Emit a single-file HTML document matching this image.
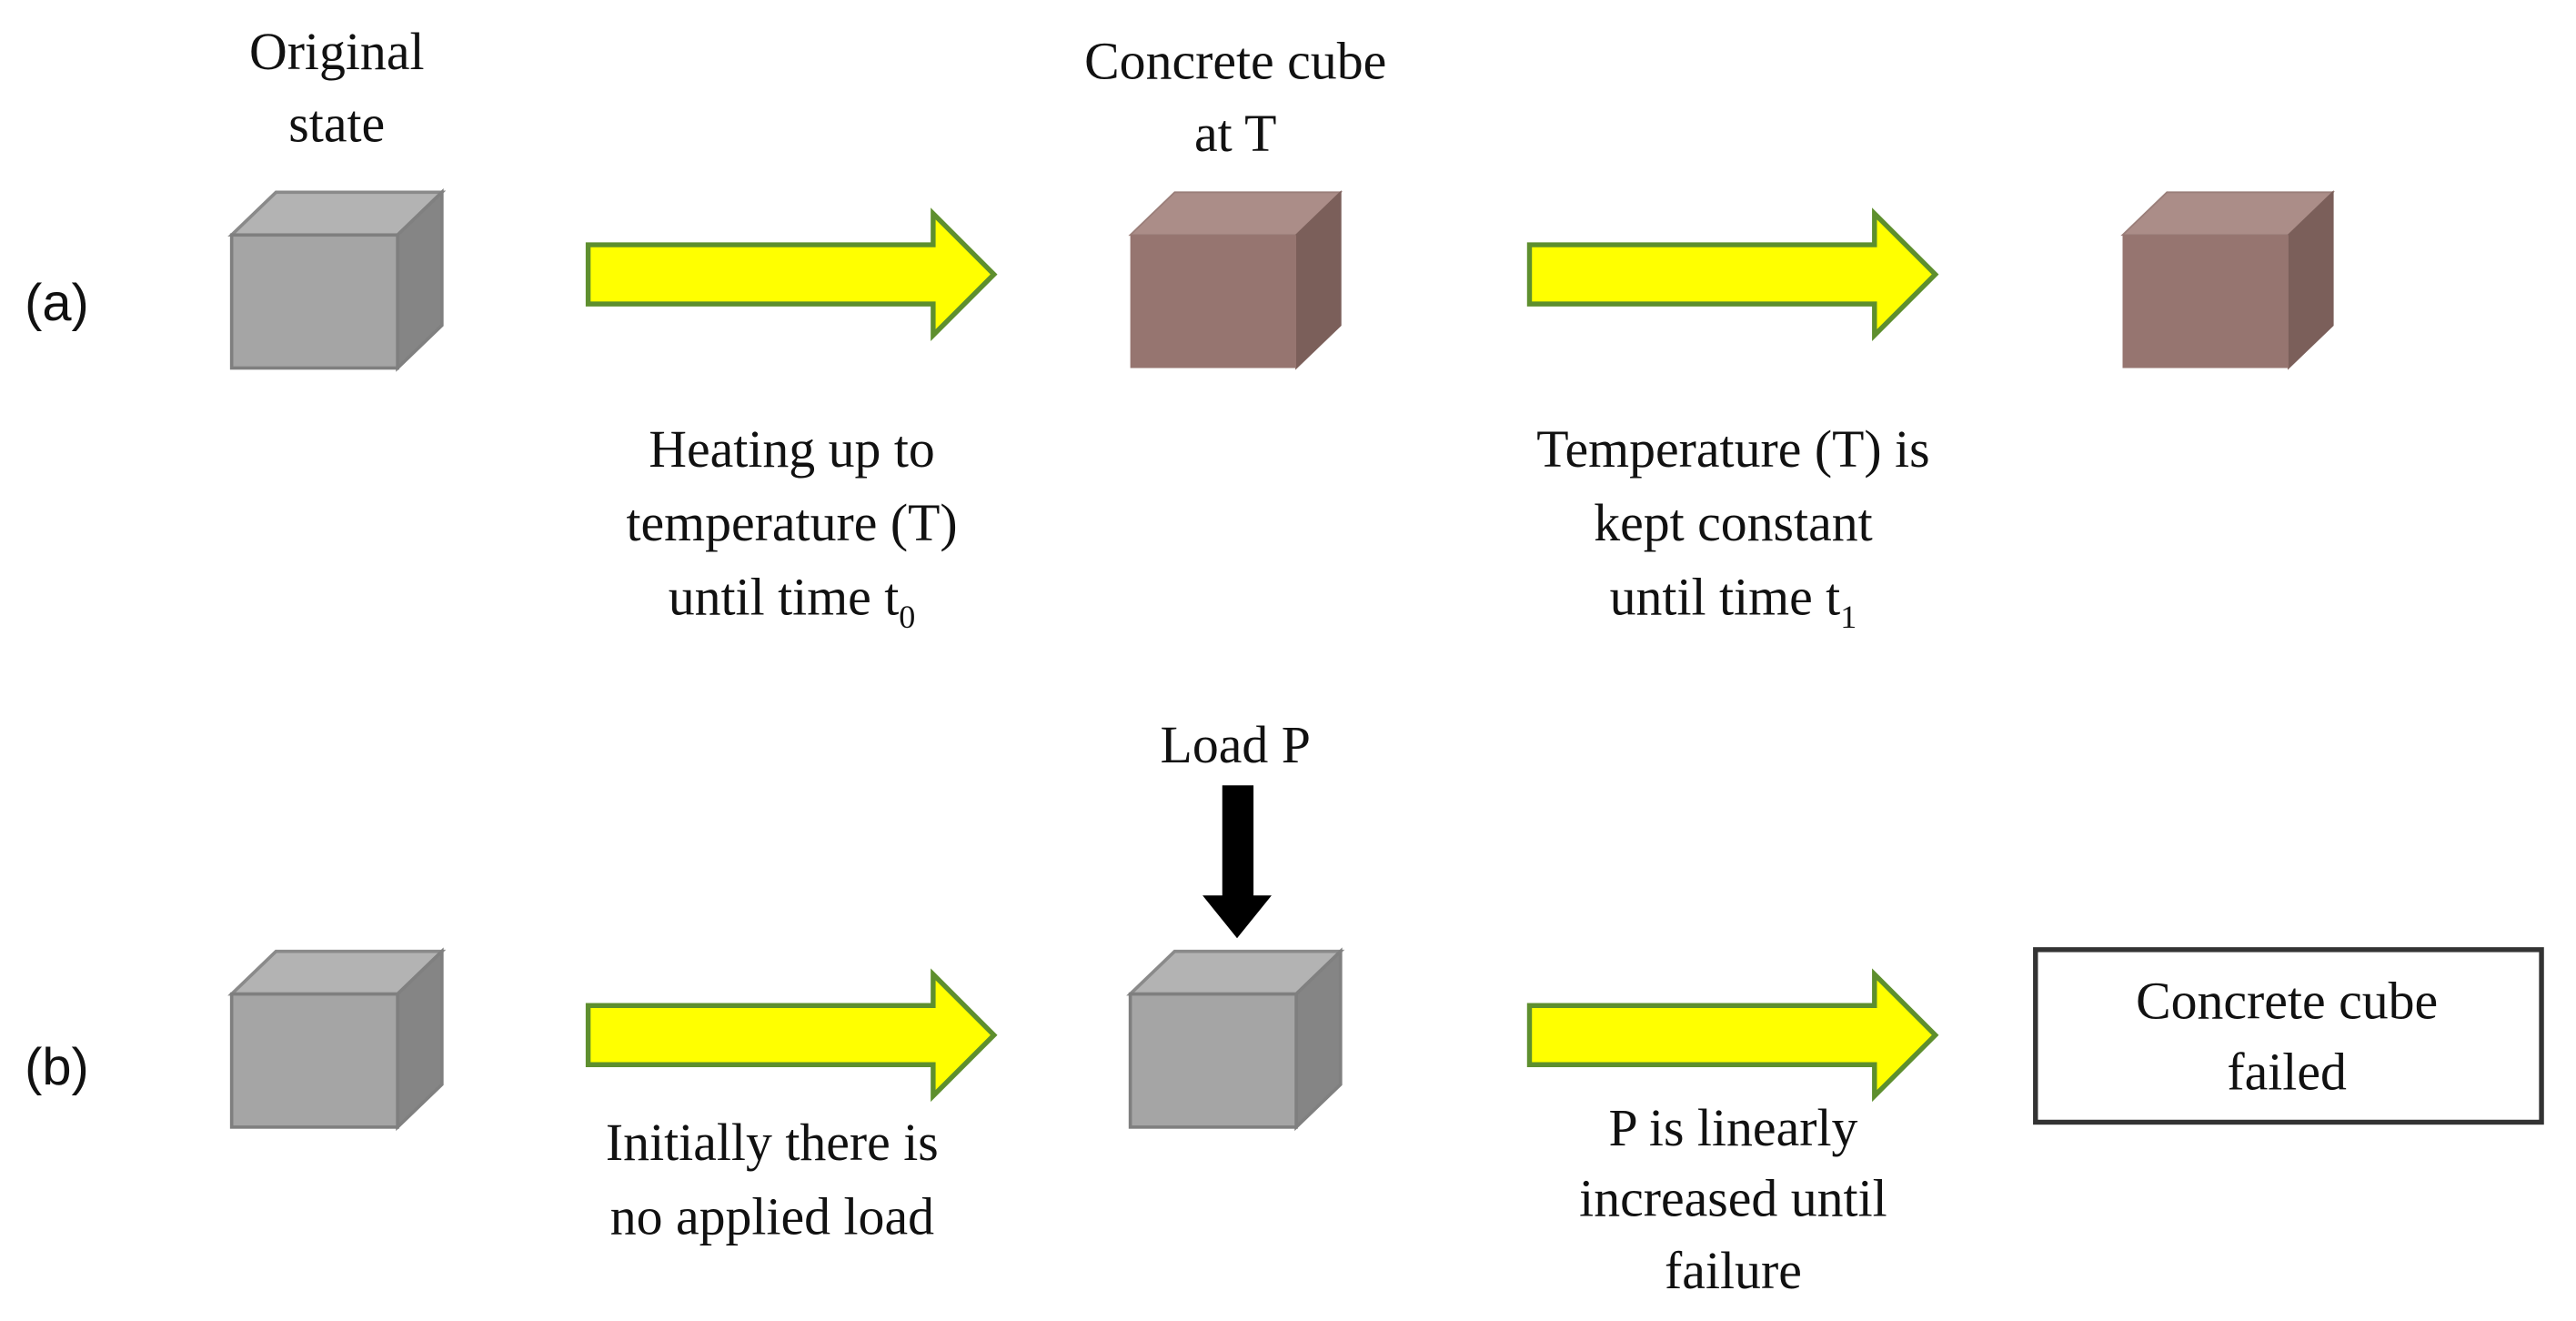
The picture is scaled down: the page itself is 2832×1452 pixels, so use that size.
<!DOCTYPE html>
<html><head><meta charset="utf-8"><style>
html,body{margin:0;padding:0;background:#fff;}
svg{display:block;}
text{font-family:"Liberation Serif",serif;font-size:32px;fill:#111;}
.s{font-family:"Liberation Sans",sans-serif;font-size:32px;}
</style></head><body>
<svg width="2832" height="1452" viewBox="0 0 1568 804" preserveAspectRatio="none" xmlns="http://www.w3.org/2000/svg">
<defs>
<g id="gcube">
<polygon points="0,26 27,0 128,0 101,26" fill="#b3b3b3" stroke="#8a8a8a" stroke-width="2"/>
<polygon points="101,26 128,0 128,81 101,107" fill="#858585" stroke="#808080" stroke-width="2"/>
<rect x="0" y="26" width="101" height="81" fill="#a5a5a5" stroke="#7f7f7f" stroke-width="2"/>
</g>
<g id="bcube">
<polygon points="0,26 27,0 128,0 101,26" fill="#ab8d88" stroke="#9a7e79" stroke-width="1"/>
<polygon points="101,26 128,0 128,81 101,107" fill="#7b5f5a" stroke="#7b5f5a" stroke-width="1"/>
<rect x="0" y="26" width="101" height="81" fill="#967570"/>
</g>
<g id="yarr">
<polygon points="0,-18 210,-18 210,-37 247,0 210,37 210,18 0,18" fill="#ffff00" stroke="#5e8f2e" stroke-width="3"/>
</g>
</defs>

<text class="s" x="15" y="195">(a)</text>
<text class="s" x="15" y="660">(b)</text>

<text x="205" y="42" text-anchor="middle">Original</text>
<text x="205" y="86" text-anchor="middle">state</text>
<text x="752" y="48" text-anchor="middle">Concrete cube</text>
<text x="752" y="92" text-anchor="middle">at T</text>

<use href="#gcube" x="141" y="117"/>
<use href="#yarr" x="358" y="167"/>
<use href="#bcube" x="688" y="117"/>
<use href="#yarr" x="931" y="167"/>
<use href="#bcube" x="1292" y="117"/>

<text x="482" y="284" text-anchor="middle">Heating up to</text>
<text x="482" y="329" text-anchor="middle">temperature (T)</text>
<text x="482" y="374" text-anchor="middle">until time t<tspan font-size="20" dy="8">0</tspan></text>
<text x="1055" y="284" text-anchor="middle">Temperature (T) is</text>
<text x="1055" y="329" text-anchor="middle">kept constant</text>
<text x="1055" y="374" text-anchor="middle">until time t<tspan font-size="20" dy="8">1</tspan></text>

<text x="752" y="464" text-anchor="middle">Load P</text>
<polygon points="744,478 763,478 763,545 774,545 753,571 732,545 744,545" fill="#000"/>

<use href="#gcube" x="141" y="579"/>
<use href="#yarr" x="358" y="630"/>
<use href="#gcube" x="688" y="579"/>
<use href="#yarr" x="931" y="630"/>

<rect x="1239" y="578" width="308" height="105" fill="#fff" stroke="#333" stroke-width="3"/>
<text x="1392" y="620" text-anchor="middle">Concrete cube</text>
<text x="1392" y="663" text-anchor="middle">failed</text>

<text x="470" y="706" text-anchor="middle">Initially there is</text>
<text x="470" y="751" text-anchor="middle">no applied load</text>
<text x="1055" y="697" text-anchor="middle">P is linearly</text>
<text x="1055" y="740" text-anchor="middle">increased until</text>
<text x="1055" y="784" text-anchor="middle">failure</text>
</svg>
</body></html>
